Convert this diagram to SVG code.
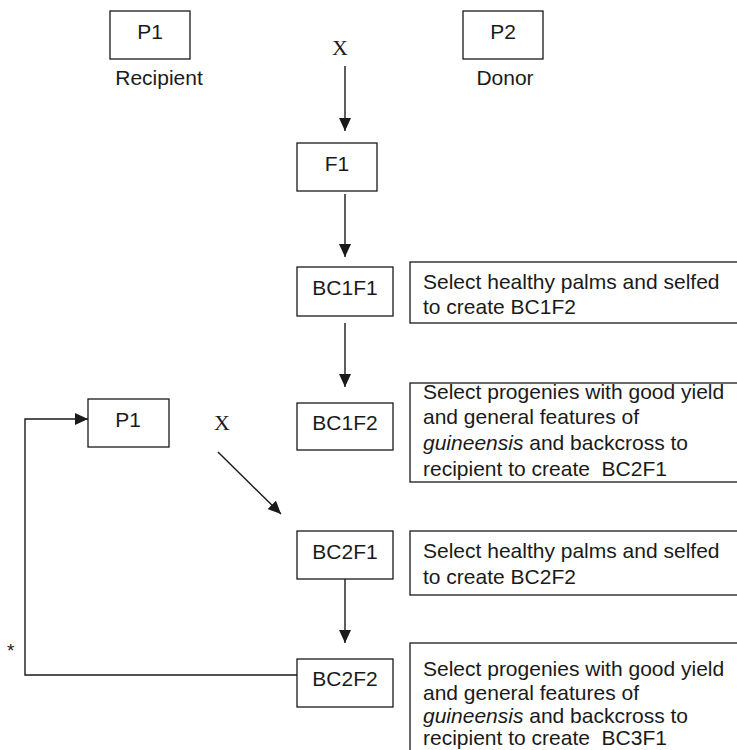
<svg xmlns="http://www.w3.org/2000/svg" width="737" height="750" viewBox="0 0 737 750">
<style>
.box{fill:#fff;stroke:#1a1a1a;stroke-width:1.3}
.t{font-family:"Liberation Sans",Arial,sans-serif;font-size:21px;fill:#1a1a1a}
.c{text-anchor:middle}
.x{font-family:"Liberation Serif","Times New Roman",serif;font-size:22px;fill:#1a1a1a;text-anchor:middle}
.ln{fill:none;stroke:#1a1a1a;stroke-width:1.4}
</style>
<defs>
<marker id="ah" markerUnits="userSpaceOnUse" markerWidth="14" markerHeight="12" refX="13" refY="6" orient="auto">
<path d="M0,0 L13,6 L0,12 z" fill="#1a1a1a"/>
</marker>
</defs>
<g id="connectors">
<line class="ln" x1="345" y1="66" x2="345" y2="131" marker-end="url(#ah)"/>
<line class="ln" x1="345" y1="194" x2="345" y2="257" marker-end="url(#ah)"/>
<line class="ln" x1="345" y1="323" x2="345" y2="387" marker-end="url(#ah)"/>
<line class="ln" x1="218" y1="452" x2="281" y2="514" marker-end="url(#ah)"/>
<line class="ln" x1="345" y1="579" x2="345" y2="643" marker-end="url(#ah)"/>
<polyline class="ln" points="297,675 25,675 25,419 88,419" marker-end="url(#ah)"/>
</g>
<g id="p1-top">
<rect class="box" x="110" y="11" width="80" height="48"/>
<text class="t c" x="150" y="39">P1</text>
<text class="t c" x="159" y="85">Recipient</text>
</g>
<g id="cross-top">
<text class="x" x="340" y="55">X</text>
</g>
<g id="p2-top">
<rect class="box" x="463" y="11" width="80" height="48"/>
<text class="t c" x="503" y="39">P2</text>
<text class="t c" x="505" y="85">Donor</text>
</g>
<g id="f1">
<rect class="box" x="297" y="143" width="80" height="48"/>
<text class="t c" x="337" y="171">F1</text>
</g>
<g id="bc1f1">
<rect class="box" x="297" y="267" width="96" height="49"/>
<text class="t c" x="345" y="295">BC1F1</text>
</g>
<g id="note1">
<rect class="box" x="410" y="262" width="330" height="61"/>
<text class="t" x="423" y="289">Select healthy palms and selfed</text>
<text class="t" x="423" y="314">to create BC1F2</text>
</g>
<g id="bc1f2">
<rect class="box" x="297" y="403" width="96" height="47"/>
<text class="t c" x="345" y="430">BC1F2</text>
</g>
<g id="note2">
<rect class="box" x="410" y="383" width="330" height="99"/>
<text class="t" x="423" y="399">Select progenies with good yield</text>
<text class="t" x="423" y="424">and general features of</text>
<text class="t" x="423" y="450"><tspan font-style="italic">guineensis</tspan> and backcross to</text>
<text class="t" x="423" y="476" xml:space="preserve">recipient to create  BC2F1</text>
</g>
<g id="p1-lower">
<rect class="box" x="88" y="399" width="81" height="48"/>
<text class="t c" x="128" y="427">P1</text>
</g>
<g id="cross-lower">
<text class="x" x="222" y="430">X</text>
</g>
<g id="bc2f1">
<rect class="box" x="297" y="531" width="96" height="48"/>
<text class="t c" x="345" y="559">BC2F1</text>
</g>
<g id="note3">
<rect class="box" x="410" y="531" width="330" height="64"/>
<text class="t" x="423" y="558">Select healthy palms and selfed</text>
<text class="t" x="423" y="584">to create BC2F2</text>
</g>
<g id="bc2f2">
<rect class="box" x="297" y="659" width="96" height="48"/>
<text class="t c" x="345" y="686">BC2F2</text>
</g>
<g id="note4">
<rect class="box" x="410" y="643" width="330" height="120"/>
<text class="t" x="423" y="676">Select progenies with good yield</text>
<text class="t" x="423" y="700">and general features of</text>
<text class="t" x="423" y="723"><tspan font-style="italic">guineensis</tspan> and backcross to</text>
<text class="t" x="423" y="745" xml:space="preserve">recipient to create  BC3F1</text>
</g>
<g id="asterisk">
<text class="t" x="7" y="657" style="font-size:19px">*</text>
</g>
</svg>
